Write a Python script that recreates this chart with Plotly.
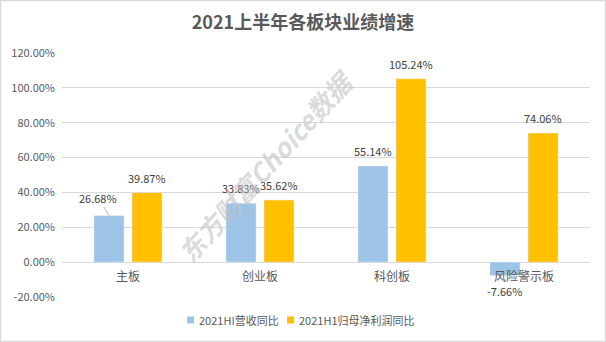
import plotly.graph_objects as go

categories = ["主板", "创业板", "科创板", "风险警示板"]
revenue_yoy = [26.68, 33.83, 55.14, -7.66]
profit_yoy = [39.87, 35.62, 105.24, 74.06]
series_names = ["2021HI营收同比", "2021H1归母净利润同比"]
series_colors = ["#9DC3E6", "#FFC000"]
y_ticks = [-20, 0, 20, 40, 60, 80, 100, 120]
y_range = [-20, 120]

W, H = 606, 342
M_L, M_R, M_T, M_B = 62, 16, 53, 45
plot_w = W - M_L - M_R
plot_h = H - M_T - M_B
bar_gap = 0.424
slot_px = plot_w / len(categories) * (1 - bar_gap) / 2  # width of one bar slot


def px_x(px):
    return (px - M_L) / plot_w


def px_y(py):
    return (H - M_B - py) / plot_h


label_font = dict(family="Noto Sans CJK SC, sans-serif", size=11, color="#404040")

fig = go.Figure()
for name, color, vals in zip(series_names, series_colors, [revenue_yoy, profit_yoy]):
    fig.add_trace(go.Bar(x=categories, y=vals, name=name, marker_color=color,
                         showlegend=False))

# value labels above (or below) each bar
for k, vals in enumerate([revenue_yoy, profit_yoy]):
    shift = (k - 0.5) * slot_px
    for cat, v in zip(categories, vals):
        txt = f"{v:.2f}%"
        if k == 0 and cat == "主板":
            # label pulled to the upper left with a leader line
            fig.add_annotation(x=cat, y=v, xshift=shift, text=txt, showarrow=True,
                               arrowhead=0, arrowwidth=0.8, arrowcolor="#A6A6A6",
                               ax=-11, ay=-18, standoff=0, font=label_font)
        elif v >= 0:
            fig.add_annotation(x=cat, y=v, xshift=shift, yshift=15, text=txt,
                               showarrow=False, yanchor="middle", font=label_font)
        else:
            fig.add_annotation(x=cat, y=v, xshift=shift, yshift=-16, text=txt,
                               showarrow=False, yanchor="middle", font=label_font)

# compact legend: small colour square followed by the series name
legend_items = [(187, series_names[0], series_colors[0]),
                (287, series_names[1], series_colors[1])]
legend_y = 320
for left, name, color in legend_items:
    fig.add_shape(type="rect", xref="paper", yref="paper",
                  x0=px_x(left), x1=px_x(left + 7),
                  y0=px_y(legend_y + 3.5), y1=px_y(legend_y - 3.5),
                  line=dict(width=0), fillcolor=color)
    fig.add_annotation(text=name, xref="paper", yref="paper",
                       x=px_x(left + 10), y=px_y(legend_y),
                       xanchor="left", yanchor="middle", showarrow=False,
                       font=dict(size=11, color="#595959"))

fig.update_layout(
    width=W, height=H,
    margin=dict(l=M_L, r=M_R, t=M_T, b=M_B, autoexpand=False),
    paper_bgcolor="white", plot_bgcolor="white",
    font=dict(family="Noto Sans CJK SC, sans-serif", color="#595959"),
    title=dict(text="<b>2021上半年各板块业绩增速</b>", x=0.5, xanchor="center",
               xref="container", y=0.935, yanchor="middle",
               font=dict(size=18, color="#595959")),
    barmode="group", bargap=bar_gap, bargroupgap=0.21,
    showlegend=False,
)
# category labels sit just under the zero line
fig.update_xaxes(showgrid=False, showline=False, ticks="",
                 anchor="free", position=(0 - y_range[0]) / (y_range[1] - y_range[0]),
                 ticklabelstandoff=6,
                 tickfont=dict(size=12, color="#595959"))
fig.update_yaxes(range=y_range, tickvals=y_ticks,
                 ticktext=[f"{v:.2f}%" for v in y_ticks],
                 showgrid=True, gridcolor="#D9D9D9", gridwidth=1,
                 zeroline=True, zerolinecolor="#D9D9D9", zerolinewidth=1,
                 showline=False, ticks="", ticklen=0, ticklabelstandoff=6,
                 tickfont=dict(size=11, color="#595959"))

# watermark
fig.add_annotation(
    text="<b><i>东方财富Choice数据</i></b>", xref="paper", yref="paper",
    x=px_x(265), y=px_y(165),
    showarrow=False, textangle=-48,
    font=dict(family="Noto Sans CJK SC, sans-serif", size=26, color="rgba(195,195,195,0.6)"),
)

# outer frame
fig.add_shape(type="rect", xref="paper", yref="paper",
              x0=px_x(0.5), x1=px_x(W - 0.5), y0=px_y(H - 0.5), y1=px_y(0.5),
              line=dict(color="#D9D9D9", width=1.5), fillcolor="rgba(0,0,0,0)")

fig.write_html("out.html")
